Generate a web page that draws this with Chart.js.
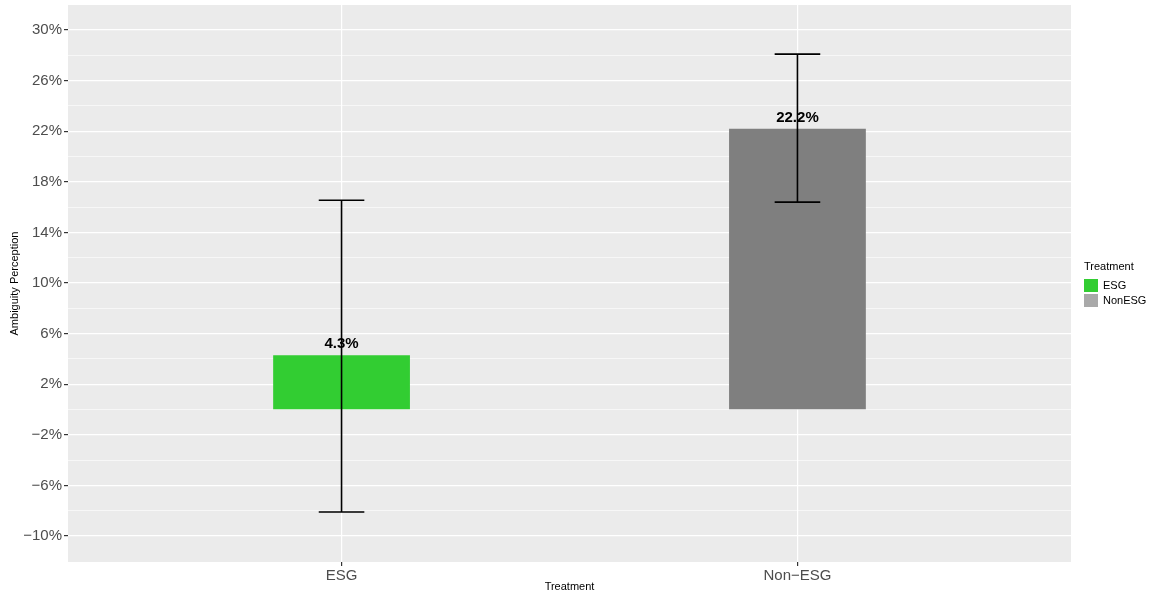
<!DOCTYPE html>
<html>
<head>
<meta charset="utf-8">
<script src="https://cdn.jsdelivr.net/npm/chart.js@4"></script>
<style>
  html, body { margin: 0; padding: 0; background: #fff; }
  #wrap { width: 1156px; height: 596px; }
</style>
</head>
<body>
<div id="wrap"><canvas id="dataChart" width="1156" height="596"></canvas></div>
<script>
// data
const categories = ['ESG', 'Non\u2212ESG'];
const categoryX = [1, 2];
const meanValues = [4.3, 22.2];
const errLow = [-8.1, 16.4];
const errHigh = [16.55, 28.1];
const yTicks = [-10, -6, -2, 2, 6, 10, 14, 18, 22, 26, 30];
const yMinorTicks = [-8, -4, 0, 4, 8, 12, 16, 20, 24, 28];
const legendLabels = ['ESG', 'NonESG'];

const FONT = "'Liberation Sans', Arial, Helvetica, sans-serif";
const barColors = ['#32CD32', '#7F7F7F'];
const legendColors = ['#32CD32', '#A9A9A9'];

function pct(v) {
    return (v < 0 ? '\u2212' + Math.abs(v) : v) + '%';
}

// grey panel behind the plot
const panelBg = {
    id: 'panelBg',
    beforeDraw(chart) {
        const a = chart.chartArea, ctx = chart.ctx;
        ctx.save();
        ctx.fillStyle = '#EBEBEB';
        ctx.fillRect(a.left, a.top, a.right - a.left, a.bottom - a.top);
        ctx.restore();
    }
};

// labels, error bars and legend
const extras = {
    id: 'extras',
    afterDatasetsDraw(chart) {
        const ctx = chart.ctx;
        const xs = chart.scales.x, ys = chart.scales.y;
        ctx.save();
        // value labels
        ctx.font = 'bold 15px ' + FONT;
        ctx.fillStyle = '#000';
        ctx.textAlign = 'center';
        ctx.textBaseline = 'middle';
        meanValues.forEach((v, i) => {
            ctx.fillText(v.toFixed(1) + '%', xs.getPixelForValue(categoryX[i]), ys.getPixelForValue(v) - 11);
        });
        // error bars
        ctx.strokeStyle = '#000';
        ctx.lineWidth = 1.6;
        categoryX.forEach((x, i) => {
            const cx = xs.getPixelForValue(x);
            const l = xs.getPixelForValue(x - 0.05), r = xs.getPixelForValue(x + 0.05);
            const yl = ys.getPixelForValue(errLow[i]), yh = ys.getPixelForValue(errHigh[i]);
            ctx.beginPath();
            ctx.moveTo(cx, yl); ctx.lineTo(cx, yh);
            ctx.moveTo(l, yl); ctx.lineTo(r, yl);
            ctx.moveTo(l, yh); ctx.lineTo(r, yh);
            ctx.stroke();
        });
        ctx.restore();
    },
    afterDraw(chart) {
        const ctx = chart.ctx;
        ctx.save();
        ctx.textAlign = 'left';
        ctx.textBaseline = 'middle';
        ctx.fillStyle = '#000';
        ctx.font = '11px ' + FONT;
        ctx.fillText('Treatment', 1084, 267);
        legendLabels.forEach((lab, i) => {
            const y = 279 + i * 15;
            ctx.fillStyle = legendColors[i];
            ctx.fillRect(1084, y, 14, 13);
            ctx.fillStyle = '#000';
            ctx.fillText(lab, 1103, y + 6.5);
        });
        ctx.restore();
    }
};

function createGraph() {
    const ctx = document.getElementById('dataChart').getContext('2d');
    new Chart(ctx, {
        type: 'bar',
        data: {
            datasets: [{
                data: categoryX.map((x, i) => ({ x: x, y: meanValues[i] })),
                backgroundColor: barColors,
                borderWidth: 0,
                barPercentage: 0.3,
                categoryPercentage: 1.0
            }]
        },
        options: {
            responsive: false,
            animation: false,
            layout: { padding: { top: 5, right: 85, left: 0, bottom: 0 } },
            scales: {
                x: {
                    type: 'linear',
                    min: 0.4,
                    max: 2.6,
                    offset: false,
                    afterBuildTicks: (s) => { s.ticks = categoryX.map(v => ({ value: v })); },
                    afterFit: (s) => { s.height = 34; s.paddingLeft = 0; s.paddingRight = 0; },
                    border: { display: false },
                    grid: { offset: false, color: '#FFFFFF', lineWidth: 1.2, tickColor: '#333333', tickLength: 4 },
                    ticks: {
                        font: { family: FONT, size: 15 },
                        color: '#4D4D4D',
                        padding: 1,
                        maxRotation: 0,
                        callback: (v) => categories[categoryX.indexOf(v)]
                    },
                    title: {
                        display: true,
                        text: 'Treatment',
                        color: '#000',
                        font: { family: FONT, size: 11 },
                        padding: { top: 0, bottom: 2 }
                    }
                },
                y: {
                    min: -12.05,
                    max: 31.98,
                    afterBuildTicks: (s) => {
                        s.ticks = yTicks.concat(yMinorTicks).sort((a, b) => a - b).map(v => ({ value: v }));
                    },
                    afterFit: (s) => { s.width = 68; s.paddingTop = 0; s.paddingBottom = 0; },
                    border: { display: false },
                    grid: {
                        color: '#FFFFFF',
                        lineWidth: (c) => yTicks.includes(c.tick.value) ? 1.2 : 0.6,
                        tickColor: (c) => yTicks.includes(c.tick.value) ? '#333333' : 'rgba(0,0,0,0)',
                        tickLength: 4
                    },
                    ticks: {
                        font: { family: FONT, size: 15 },
                        color: '#4D4D4D',
                        padding: 2,
                        autoSkip: false,
                        callback: (v) => yTicks.includes(v) ? pct(v) : ''
                    },
                    title: {
                        display: true,
                        text: 'Ambiguity Perception',
                        color: '#000',
                        font: { family: FONT, size: 11 },
                        padding: { top: 8, bottom: 0 }
                    }
                }
            },
            plugins: {
                legend: { display: false },
                tooltip: { enabled: false }
            }
        },
        plugins: [panelBg, extras]
    });
}

window.onload = function() {
    createGraph();
};
</script>
</body>
</html>
